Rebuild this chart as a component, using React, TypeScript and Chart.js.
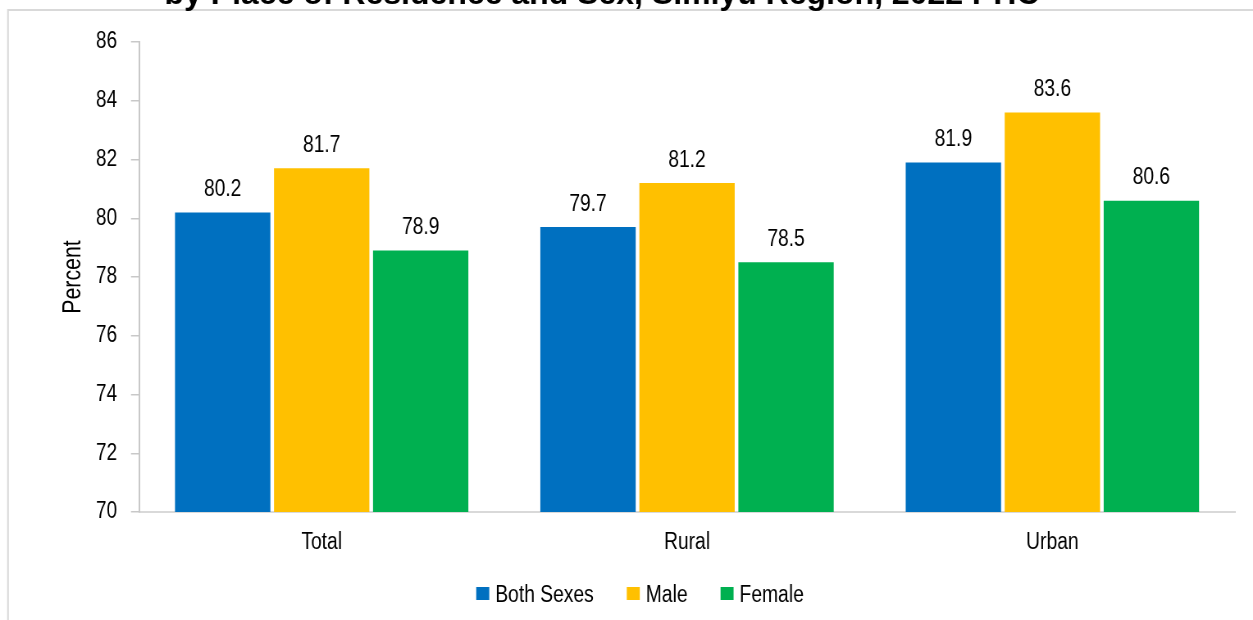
import React, { useEffect, useRef } from "react";
import { Chart, registerables } from "chart.js";

Chart.register(...registerables);

const TITLE_LINE = "by Place of Residence and Sex, Simiyu Region, 2022 PHC";
const categories = ["Total", "Rural", "Urban"];
const seriesNames = ["Both Sexes", "Male", "Female"];
const bothSexes = [80.2, 79.7, 81.9];
const male = [81.7, 81.2, 83.6];
const female = [78.9, 78.5, 80.6];
const seriesColors = ["#0070C0", "#FFC000", "#00B050"];
const yTicks = { min: 70, max: 86, step: 2 };
const yTitle = "Percent";

// The reference uses a narrow face (Arial Narrow). It is emulated by drawing
// Liberation Sans on a wider canvas that is squeezed horizontally by K.
const K = 0.82;
const W = 1253;
const H = 620;
const VW = Math.round(W / K);
const FONT = "'Liberation Sans', Arial, sans-serif";
const vx = (x: number) => x / K;

const framePlugin = {
  id: "frame",
  beforeDraw(chart: any) {
    const ctx = chart.ctx;
    ctx.save();
    ctx.fillStyle = "#ffffff";
    ctx.fillRect(0, 0, chart.width, chart.height);
    ctx.strokeStyle = "#d9d9d9";
    ctx.lineWidth = 2;
    ctx.beginPath();
    ctx.moveTo(vx(8), chart.height);
    ctx.lineTo(vx(8), 10);
    ctx.lineTo(chart.width, 10);
    ctx.stroke();
    // title (regular width bold face)
    ctx.translate(vx(602), 4);
    ctx.scale(1 / K, 1);
    ctx.fillStyle = "#000000";
    ctx.font = `bold 32px ${FONT}`;
    ctx.textAlign = "center";
    ctx.textBaseline = "alphabetic";
    ctx.fillText(TITLE_LINE, 0, 0);
    ctx.restore();
  },
  afterDraw(chart: any) {
    // rotated y-axis title in narrow face
    const ctx = chart.ctx;
    const area = chart.chartArea;
    ctx.save();
    ctx.translate(vx(73), (area.top + area.bottom) / 2);
    ctx.rotate(-Math.PI / 2);
    ctx.scale(K, 1 / K);
    ctx.fillStyle = "#000000";
    ctx.font = `26px ${FONT}`;
    ctx.textAlign = "center";
    ctx.textBaseline = "middle";
    ctx.fillText(yTitle, 0, 0);
    ctx.restore();
  },
};

const valueLabelPlugin = {
  id: "valueLabels",
  afterDatasetsDraw(chart: any) {
    const ctx = chart.ctx;
    ctx.save();
    ctx.fillStyle = "#000000";
    ctx.font = `23.5px ${FONT}`;
    ctx.textAlign = "center";
    ctx.textBaseline = "alphabetic";
    chart.data.datasets.forEach((ds: any, i: number) => {
      const meta = chart.getDatasetMeta(i);
      meta.data.forEach((bar: any, j: number) => {
        ctx.fillText(Number(ds.data[j]).toFixed(1), bar.x, bar.y - 16.5);
      });
    });
    ctx.restore();
  },
};

const legendPlugin = {
  id: "customLegend",
  afterDraw(chart: any) {
    const ctx = chart.ctx;
    ctx.save();
    ctx.font = `23.5px ${FONT}`;
    ctx.textBaseline = "alphabetic";
    ctx.textAlign = "left";
    const box = vx(13);
    const gapText = vx(6);
    const gapItem = vx(33);
    const items = chart.data.datasets.map((ds: any) => ({
      label: ds.label,
      color: ds.backgroundColor,
      w: ctx.measureText(ds.label).width,
    }));
    const total =
      items.reduce((s: number, it: any) => s + box + gapText + it.w, 0) +
      gapItem * (items.length - 1);
    let x = vx(640) - total / 2;
    const baseline = 602;
    items.forEach((it: any) => {
      ctx.fillStyle = it.color;
      ctx.fillRect(x, 587, box, 13);
      ctx.fillStyle = "#000000";
      ctx.fillText(it.label, x + box + gapText, baseline);
      x += box + gapText + it.w + gapItem;
    });
    ctx.restore();
  },
};

export default function App() {
  const canvasRef = useRef<HTMLCanvasElement | null>(null);

  useEffect(() => {
    if (!canvasRef.current) return;
    const values = [bothSexes, male, female];
    const chart = new Chart(canvasRef.current, {
      type: "bar",
      data: {
        labels: categories,
        datasets: seriesNames.map((name, i) => ({
          label: name,
          data: values[i],
          backgroundColor: seriesColors[i],
          borderWidth: 0,
          categoryPercentage: 0.813,
          barPercentage: 0.963,
        })),
      },
      options: {
        animation: false,
        responsive: true,
        maintainAspectRatio: false,
        layout: { padding: { left: vx(40), right: VW - vx(1235), top: 42, bottom: 58 } },
        plugins: {
          legend: { display: false },
          title: { display: false },
          tooltip: { enabled: false },
        },
        scales: {
          x: {
            grid: { display: false, drawTicks: false },
            border: { display: true, color: "#d9d9d9", width: 2 },
            ticks: {
              color: "#000000",
              font: { family: FONT, size: 23.5 },
              padding: 16,
            },
            afterFit(scale: any) {
              scale.height = 50;
            },
          },
          y: {
            min: yTicks.min,
            max: yTicks.max,
            grid: {
              drawOnChartArea: false,
              drawTicks: true,
              tickLength: vx(8),
              color: "#c8c8c8",
              lineWidth: 1.5,
            },
            border: { display: true, color: "#c8c8c8", width: 2 },
            ticks: {
              stepSize: yTicks.step,
              color: "#000000",
              font: { family: FONT, size: 23 },
              padding: vx(14),
            },
            afterFit(scale: any) {
              scale.width = vx(139) - vx(40);
            },
          },
        },
      },
      plugins: [framePlugin, valueLabelPlugin, legendPlugin],
    });
    return () => chart.destroy();
  }, []);

  return (
    <div style={{ position: "absolute", left: 0, top: 0, width: W, height: H, overflow: "hidden" }}>
      <div
        style={{
          width: VW,
          height: H,
          transform: `scaleX(${W / VW})`,
          transformOrigin: "0 0",
        }}
      >
        <canvas ref={canvasRef} />
      </div>
    </div>
  );
}
